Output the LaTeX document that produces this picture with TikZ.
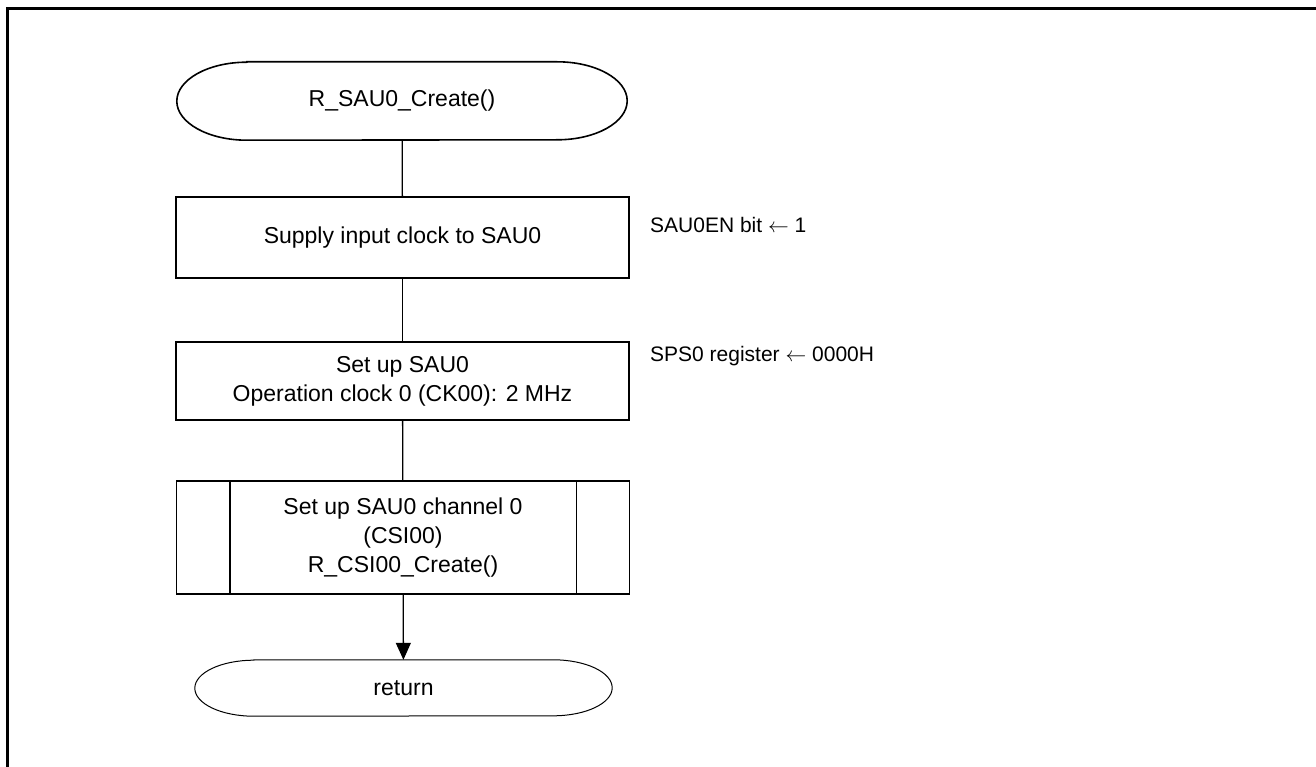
\documentclass[tikz,border=0pt]{standalone}
\usepackage{fontspec}
\setmainfont{Liberation Sans}
\usetikzlibrary{arrows.meta}
\begin{document}
\begin{tikzpicture}[x=1pt,y=-1pt,
  flowtext/.style={font=\fontsize{23}{29}\selectfont, align=center, inner sep=0pt},
  procbox/.style={flowtext, draw, line width=1.3pt, minimum width=453pt},
  termbox/.style={flowtext, minimum width=450pt},
  note/.style={font=\fontsize{21}{25}\selectfont, anchor=west, inner sep=0pt},
  link/.style={line width=1.3pt},
  outline/.style={line width=1.6pt}]
\useasboundingbox (0,0) rectangle (1316,767);
% page frame (top and left edges)
\draw[line width=3pt] (7,767) -- (7,9) -- (1316,9);

% start terminal
\node[termbox, minimum height=78pt] (start) at (402,101) {R\_SAU0\_Create()};
\draw[outline] ([xshift=70pt]start.north west) -- ([xshift=-70pt]start.north east)
  arc[start angle=90, end angle=-90, x radius=70pt, y radius=39pt]
  -- ([xshift=70pt]start.south west)
  arc[start angle=270, end angle=90, x radius=70pt, y radius=39pt] -- cycle;

% processing steps
\node[procbox, minimum height=81pt] (clk) at (402.5,237.5) {Supply input clock to SAU0};
\node[procbox, minimum height=78pt] (sau) at (402.5,381) {Set up SAU0\\Operation clock 0 (CK00): 2 MHz};
\node[procbox, minimum height=113pt] (csi) at (403,537.5) {Set up SAU0 channel 0\\(CSI00)\\R\_CSI00\_Create()};
\draw[line width=1.3pt] ([xshift=54pt]csi.north west) -- ([xshift=54pt]csi.south west)
  ([xshift=-54pt]csi.north east) -- ([xshift=-54pt]csi.south east);

% end terminal
\node[termbox, minimum width=417pt, minimum height=56pt] (ret) at (403.5,688) {return};
\draw[line width=1pt] ([xshift=59pt]ret.north west) -- ([xshift=-59pt]ret.north east)
  arc[start angle=90, end angle=-90, x radius=59pt, y radius=28pt]
  -- ([xshift=59pt]ret.south west)
  arc[start angle=270, end angle=90, x radius=59pt, y radius=28pt] -- cycle;

% connectors
\draw[link] (start) -- (clk);
\draw[link] (clk) -- (sau);
\draw[link] (sau) -- (csi);
\draw[link, -{Triangle[length=17pt, width=15pt]}] (csi) -- (ret);

% register notes
\node[note] (n1) at (650,225) {SAU0EN bit $\leftarrow$ 1};
\node[note] (n2) at (650,356) {SPS0 register $\leftarrow$ 0000H};
\end{tikzpicture}
\end{document}
